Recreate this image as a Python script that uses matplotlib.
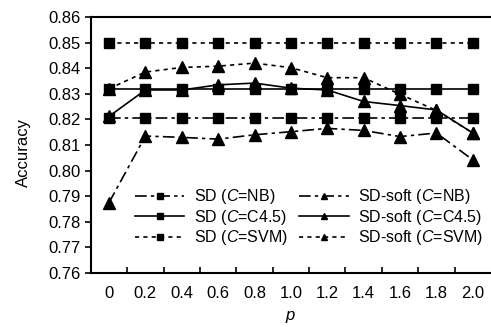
import matplotlib
matplotlib.use('Agg')
import matplotlib.pyplot as plt
import numpy as np

plt.rcParams['font.family'] = ['Liberation Sans', 'DejaVu Sans']
plt.rcParams['font.size'] = 12
plt.rcParams['mathtext.fontset'] = 'custom'
plt.rcParams['mathtext.rm'] = 'Liberation Sans'
plt.rcParams['mathtext.it'] = 'Liberation Sans:italic'

# p values (category axis)
p_labels = ['0', '0.2', '0.4', '0.6', '0.8', '1.0', '1.2', '1.4', '1.6', '1.8', '2.0']

# accuracy values
sd_nb = [0.8205] * 11
sd_c45 = [0.832] * 11
sd_svm = [0.850] * 11
soft_nb = [0.7875, 0.8135, 0.8130, 0.8123, 0.8140, 0.8152, 0.8165, 0.8157, 0.8133, 0.8147, 0.8042]
soft_c45 = [0.8212, 0.8315, 0.8315, 0.8335, 0.8342, 0.8322, 0.8315, 0.8270, 0.8254, 0.8237, 0.8147]
soft_svm = [0.8320, 0.8385, 0.8403, 0.8408, 0.8420, 0.8402, 0.8363, 0.8363, 0.8298, 0.8235, 0.8147]

ind = np.arange(len(p_labels))

fig = plt.figure(figsize=(4.91, 3.27), dpi=100)
ax = fig.add_axes([0.185, 0.165, 0.815, 0.783])

dashdot = (0, (7, 2.5, 2, 2.5))
dotted = (0, (2.5, 2.5))
sq = dict(marker='s', markersize=7, color='black', lw=1.2)
tri = dict(marker='^', markersize=8, color='black', lw=1.2)

ax.plot(ind, sd_nb, linestyle=dashdot, label=r'SD ($C$=NB)', **sq)
ax.plot(ind, sd_c45, linestyle='-', label=r'SD ($C$=C4.5)', **sq)
ax.plot(ind, sd_svm, linestyle=dotted, label=r'SD ($C$=SVM)', **sq)
ax.plot(ind, soft_nb, linestyle=dashdot, label=r'SD-soft ($C$=NB)', **tri)
ax.plot(ind, soft_c45, linestyle='-', label=r'SD-soft ($C$=C4.5)', **tri)
ax.plot(ind, soft_svm, linestyle=dotted, label=r'SD-soft ($C$=SVM)', **tri)

ax.set_xlim(-0.5, 10.5)
ax.set_ylim(0.76, 0.86)
yt = np.arange(0.76, 0.8601, 0.01)
ax.set_yticks(yt)
ax.set_yticklabels(['%.2f' % v for v in yt])
ax.set_xticks(ind)
ax.set_xticklabels(p_labels)
ax.set_xticks(ind[:-1] + 0.5, minor=True)
ax.tick_params(axis='x', which='major', length=0, pad=9)
ax.tick_params(axis='x', which='minor', direction='in', length=4, width=1.2)
ax.tick_params(axis='y', direction='out', length=4, width=1.2, pad=3)

for s in ['left', 'bottom', 'top']:
    ax.spines[s].set_linewidth(1.5)
ax.spines['right'].set_visible(False)

ax.set_ylabel('Accuracy')
ax.yaxis.set_label_coords(-0.15, 0.47)
ax.set_xlabel('$p$', labelpad=6)

ax.legend(loc='lower left', bbox_to_anchor=(0.11, 0.1), ncol=2, frameon=False,
          fontsize=11.5, handlelength=3.1, handletextpad=0.6, columnspacing=0.7,
          labelspacing=0.1, markerscale=0.6, borderpad=0, borderaxespad=0)

fig.savefig('out.png', dpi=100)
